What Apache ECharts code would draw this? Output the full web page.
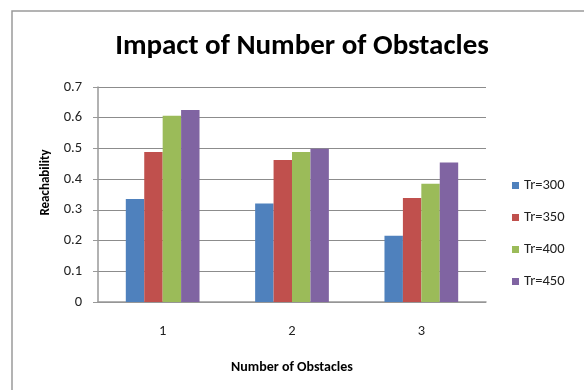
<!DOCTYPE html>
<html>
<head>
<meta charset="utf-8">
<script src="https://cdn.jsdelivr.net/npm/echarts@6/dist/echarts.min.js"></script>
<style>
  html, body { margin: 0; padding: 0; background: #fff; }
  #chart { width: 584px; height: 390px; }
</style>
</head>
<body>
<div id="chart"></div>
<script>
// Reachability for each obstacle count, one series per transmission range
const categories = ['1', '2', '3'];
const seriesNames = ['Tr=300', 'Tr=350', 'Tr=400', 'Tr=450'];
const tr300 = [0.335, 0.321, 0.216];
const tr350 = [0.488, 0.462, 0.339];
const tr400 = [0.606, 0.488, 0.385];
const tr450 = [0.625, 0.499, 0.454];
const colors = ['#4F81BD', '#C0504D', '#9BBB59', '#8064A2'];

const FONT = '"Carlito", "Liberation Sans Narrow", "Liberation Sans", sans-serif';
const values = [tr300, tr350, tr400, tr450];

const chart = echarts.init(document.getElementById('chart'), null, { renderer: 'canvas' });
chart.setOption({
  animation: false,
  backgroundColor: '#fff',
  color: colors,
  textStyle: { fontFamily: FONT },
  graphic: [{
    type: 'rect',
    shape: { x: 12, y: 11, width: 620, height: 420 },
    style: { fill: 'none', stroke: '#9a9a9a', lineWidth: 1.5 },
    silent: true
  }],
  title: {
    text: 'Impact of Number of Obstacles',
    left: 297,
    textAlign: 'center',
    top: 27,
    textStyle: { fontFamily: FONT, fontSize: 29, fontWeight: 'bold', color: '#000' }
  },
  legend: {
    orient: 'vertical',
    left: 507,
    top: 173,
    itemWidth: 7,
    itemHeight: 7,
    itemGap: 17,
    icon: 'rect',
    data: seriesNames,
    textStyle: { fontFamily: FONT, fontSize: 14.5, color: '#222' }
  },
  grid: { left: 98, right: 98, top: 87, bottom: 88 },
  xAxis: {
    type: 'category',
    data: categories,
    name: 'Number of Obstacles',
    nameLocation: 'middle',
    nameGap: 58,
    nameTextStyle: { fontFamily: FONT, fontSize: 14, fontWeight: 'bold', color: '#000' },
    axisLine: { lineStyle: { color: '#999', width: 1.5 } },
    axisTick: { show: false },
    axisLabel: { margin: 22, fontSize: 14.5, color: '#222', fontFamily: FONT }
  },
  yAxis: {
    type: 'value',
    min: 0,
    max: 0.7,
    interval: 0.1,
    name: 'Reachability',
    nameLocation: 'middle',
    nameGap: 45,
    nameTextStyle: { fontFamily: FONT, fontSize: 13, fontWeight: 'bold', color: '#000', padding: [0, 0, 0, 24] },
    axisLine: { show: true, lineStyle: { color: '#999', width: 1.5 } },
    axisTick: { show: true, length: 5, lineStyle: { color: '#999' } },
    axisLabel: { margin: 16, fontSize: 14.5, color: '#222', fontFamily: FONT },
    splitLine: { lineStyle: { color: '#8c8c8c', width: 1 } }
  },
  series: seriesNames.map((name, i) => ({
    name: name,
    type: 'bar',
    data: values[i],
    barGap: '0%',
    barCategoryGap: '43%',
    itemStyle: { color: colors[i] }
  }))
});
</script>
</body>
</html>
